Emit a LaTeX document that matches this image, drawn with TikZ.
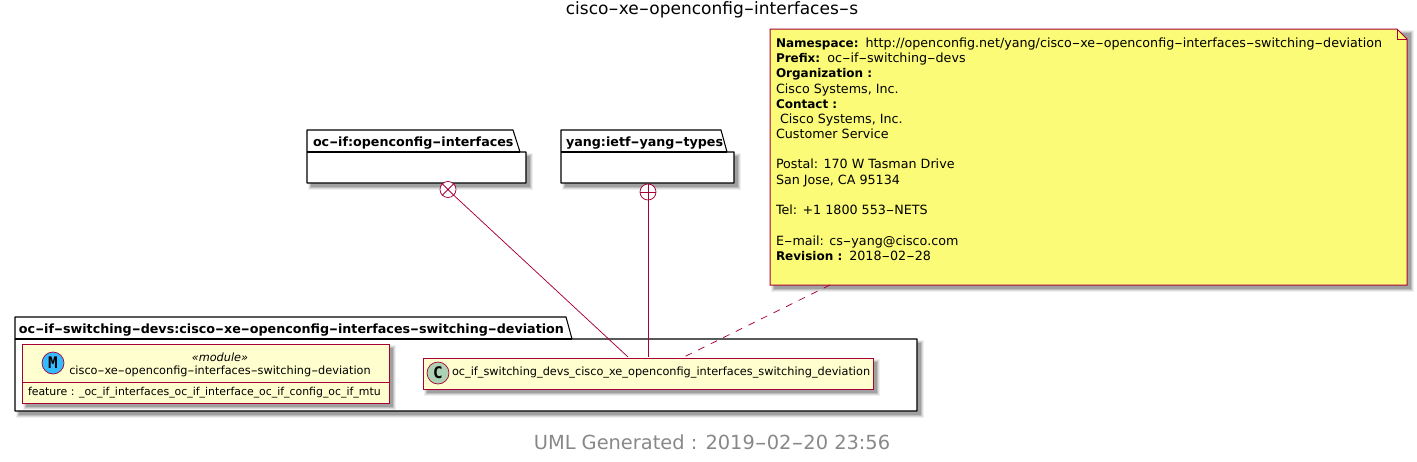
\documentclass[tikz,border=0pt]{standalone}
\usepackage{graphicx}
\usepackage{fontspec}
\setmainfont{DejaVu Sans}
\newfontfamily\spotfont{DejaVu Sans Mono}
\newcommand{\fs}[1]{\fontsize{#1}{#1}\selectfont}
\newcommand{\hyS}{1.7}
\newcommand{\hy}{\scalebox{\hyS}[1]{-}}
\newcommand{\nb}[1]{{\fs{12}\bfseries #1}}
\definecolor{umlred}{HTML}{A80036}
\definecolor{umlbox}{HTML}{FEFECE}
\definecolor{umlnote}{HTML}{FBFB77}
\definecolor{umlc}{HTML}{ADD1B2}
\definecolor{umlm}{HTML}{33BBFF}
\definecolor{umlgray}{HTML}{888888}
\newcommand{\shadowrect}[4]{%
  \fill[black,opacity=.06] (#1+1,#2+1) rectangle (#3+7,#4+7);
  \fill[black,opacity=.09] (#1+2,#2+2) rectangle (#3+6,#4+6);
  \fill[black,opacity=.12] (#1+3,#2+3) rectangle (#3+5,#4+5);
  \fill[black,opacity=.16] (#1+4,#2+4) rectangle (#3+4,#4+4);}
\tikzset{
  x=1pt,y=-1pt,
  pkgline/.style={draw=black,line width=1.05pt,fill=white,line join=round},
  boxline/.style={draw=umlred,line width=1pt,fill=umlbox},
  txt/.style={inner sep=0pt,outer sep=0pt,font=\fs{11.3}},
  pkgtxt/.style={inner sep=0pt,outer sep=0pt,font=\fs{12.7}\bfseries,anchor=base west},
  spot/.style={circle,draw=umlred,line width=.7pt,minimum size=22pt,inner sep=0pt,font=\fs{16}\spotfont\bfseries},
  endmark/.style={circle,draw=umlred,fill=white,line width=.75pt,minimum size=16pt,inner sep=0pt},
  rel/.style={draw=umlred,line width=.75pt},
  notetxt/.style={inner sep=0pt,outer sep=0pt,font=\fs{12.7}\renewcommand{\hyS}{1.85},anchor=base west},
}
\begin{document}
\begin{tikzpicture}
\useasboundingbox (0,0) rectangle (1417,461);
\node[inner sep=0pt,font=\fs{17}] (title) at (712,10) {cisco\hy xe\hy openconfig\hy interfaces\hy s};
% package oc-if
\shadowrect{307}{152}{526}{183}
\path[pkgline] (307,183) -- (307,130) -- (513,130) -- (520,152) -- (526,152) -- (526,183) -- cycle;
\draw[black,line width=1.05pt] (307,152) -- (520,152);
\node[pkgtxt] (pkgif) at (313,146) {oc\hy if:openconfig\hy interfaces};
% package yang
\shadowrect{561}{152}{734}{183}
\path[pkgline] (561,183) -- (561,130) -- (721,130) -- (727,152) -- (734,152) -- (734,183) -- cycle;
\draw[black,line width=1.05pt] (561,152) -- (727,152);
\node[pkgtxt] (pkgyang) at (566,146) {yang:ietf\hy yang\hy types};
% big package
\shadowrect{15}{339}{917}{411}
\path[pkgline] (15,411) -- (15,317) -- (566,317) -- (572,339) -- (917,339) -- (917,411) -- cycle;
\draw[black,line width=1.05pt] (15,339) -- (572,339);
\node[pkgtxt] (pkgmain) at (19,333) {oc\hy if\hy switching\hy devs:cisco\hy xe\hy openconfig\hy interfaces\hy switching\hy deviation};
% module
\shadowrect{22}{344}{389}{403}
\path[boxline] (22,344) rectangle (389,403);
\draw[umlred,line width=1pt] (22,382) -- (389,382);
\node[spot,fill=umlm] (mspot) at (53,363) {M};
\node[txt,font=\fs{11.3}\itshape] (stereo) at (220,357) {«module»};
\node[txt] (modname) at (220,371) {cisco\hy xe\hy openconfig\hy interfaces\hy switching\hy deviation};
\node[txt,anchor=west,font=\fs{10.9}] (feat) at (28,393) {feature : \_oc\_if\_interfaces\_oc\_if\_interface\_oc\_if\_config\_oc\_if\_mtu};
% class
\shadowrect{423}{358}{873}{389}
\path[boxline] (423,358) rectangle (873,389);
\node[spot,fill=umlc] (cspot) at (438,373) {C};
\node[txt,anchor=west] (cls) at (452,373) {oc\_if\_switching\_devs\_cisco\_xe\_openconfig\_interfaces\_switching\_deviation};
\coordinate (clsA) at (628,357);
\coordinate (clsB) at (648,357);
\coordinate (clsC) at (684,357);
% note
\shadowrect{770}{29}{1407}{285}
\path[draw=umlred,line width=1pt,fill=umlnote] (770,29) -- (1397,29) -- (1407,39) -- (1407,285) -- (770,285) -- cycle;
\draw[umlred,line width=1pt] (1397,29) -- (1397,39) -- (1407,39);
\coordinate (noteB) at (830,285);
\node[notetxt] at (776,47) {\nb{Namespace:}\hspace{7pt}http://openconfig.net/yang/cisco\hy xe\hy openconfig\hy interfaces\hy switching\hy deviation};
\node[notetxt] at (776,62) {\nb{Prefix:}\hspace{7pt}oc\hy if\hy switching\hy devs};
\node[notetxt] at (776,77) {\nb{Organization :}};
\node[notetxt] at (776,93) {Cisco Systems, Inc.};
\node[notetxt] at (776,108) {\nb{Contact :}};
\node[notetxt] at (780,123) {Cisco Systems, Inc.};
\node[notetxt] at (776,138) {Customer Service};
\node[notetxt] at (776,168) {Postal: 170 W Tasman Drive};
\node[notetxt] at (776,184) {San Jose, CA 95134};
\node[notetxt] at (776,214) {Tel: +1 1800 553\hy NETS};
\node[notetxt] at (776,245) {E\hy mail: cs\hy yang@cisco.com};
\node[notetxt] at (776,260) {\nb{Revision :}\hspace{7pt}2018\hy 02\hy 28};
% relations
\node[endmark] (e1) at (448,189.5) {};
\draw[umlred,line width=.75pt] (e1.45) -- (e1.225) (e1.135) -- (e1.315);
\node[endmark] (e2) at (648,192) {};
\draw[umlred,line width=.75pt] (e2.north) -- (e2.south) (e2.east) -- (e2.west);
\draw[rel] (e1.315) -- (clsA);
\draw[rel] (e2.south) -- (clsB);
\draw[rel,dash pattern=on 7pt off 7pt] (noteB) -- (clsC);
% footer
\node[inner sep=0pt,font=\fs{19.4},text=umlgray] (foot) at (712,442) {UML Generated : 2019\hy 02\hy 20 23:56};
\end{tikzpicture}
\end{document}
